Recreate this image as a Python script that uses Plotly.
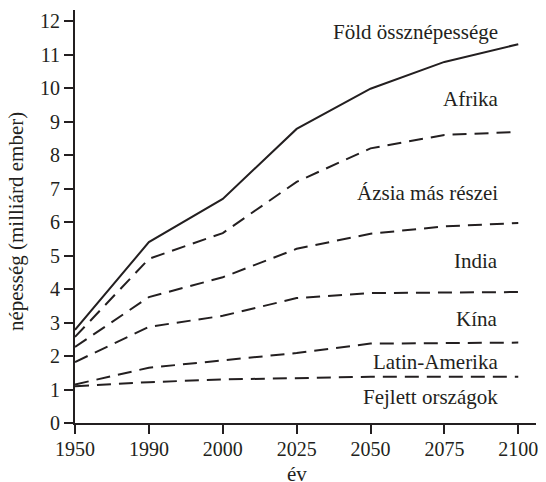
import plotly.graph_objects as go

years = ["1950", "1990", "2000", "2025", "2050", "2075", "2100"]
fold = [2.78, 5.4, 6.69, 8.78, 9.98, 10.78, 11.31]
afrika_hatar = [2.57, 4.9, 5.67, 7.2, 8.2, 8.6, 8.69]
azsia_hatar = [2.27, 3.76, 4.35, 5.2, 5.65, 5.87, 5.97]
india_hatar = [1.82, 2.87, 3.2, 3.73, 3.88, 3.9, 3.91]
kina_hatar = [1.15, 1.65, 1.87, 2.09, 2.37, 2.39, 2.4]
fejlett_hatar = [1.1, 1.22, 1.3, 1.35, 1.38, 1.38, 1.38]

labels = ["Föld össznépessége", "Afrika", "Ázsia más részei", "India", "Kína",
          "Latin-Amerika", "Fejlett országok"]
label_y = [11.67, 9.67, 6.87, 4.84, 3.1, 1.82, 0.78]

yticks = list(range(0, 13))

FONT = "Liberation Serif"
INK = "#231f20"

fig = go.Figure()
fig.add_trace(go.Scatter(x=years, y=fold, mode="lines",
                         line=dict(color=INK, width=2), showlegend=False))
for ser in [afrika_hatar, azsia_hatar, india_hatar, kina_hatar, fejlett_hatar]:
    fig.add_trace(go.Scatter(x=years, y=ser, mode="lines",
                             line=dict(color=INK, width=2, dash="14px,8px"),
                             showlegend=False))

for t, yv in zip(labels, label_y):
    fig.add_annotation(x=0.922, y=yv, xref="paper", yref="y", text=t, showarrow=False,
                       xanchor="right", yanchor="middle",
                       font=dict(family=FONT, size=21, color=INK))

fig.add_annotation(text="népesség (milliárd ember)", xref="paper", yref="paper",
                   x=-0.128, y=0.489, textangle=-90, showarrow=False,
                   xanchor="center", yanchor="middle",
                   font=dict(family=FONT, size=21, color=INK))
fig.add_annotation(text="év", xref="paper", yref="paper", x=0.482, y=-0.1235,
                   xanchor="center", yanchor="middle",
                   showarrow=False, font=dict(family=FONT, size=21, color=INK))

fig.update_layout(
    width=530, height=474,
    margin=dict(l=67, r=0, t=2, b=59),
    plot_bgcolor="white", paper_bgcolor="white",
    font=dict(family=FONT, size=20, color=INK),
    xaxis=dict(type="category", range=[0, 6.24], showgrid=False, zeroline=False,
               showline=True, linecolor=INK, linewidth=2,
               ticks="outside", ticklen=9, tickwidth=1.5, tickcolor=INK,
               ticklabelstandoff=-2,
               tickfont=dict(family=FONT, size=20, color=INK)),
    yaxis=dict(range=[0, 12.33], tickvals=yticks, showgrid=False, zeroline=False,
               showline=True, linecolor=INK, linewidth=2,
               ticks="outside", ticklen=9, tickwidth=1.5, tickcolor=INK,
               tickfont=dict(family=FONT, size=20, color=INK)),
)
fig.write_html("out.html")
